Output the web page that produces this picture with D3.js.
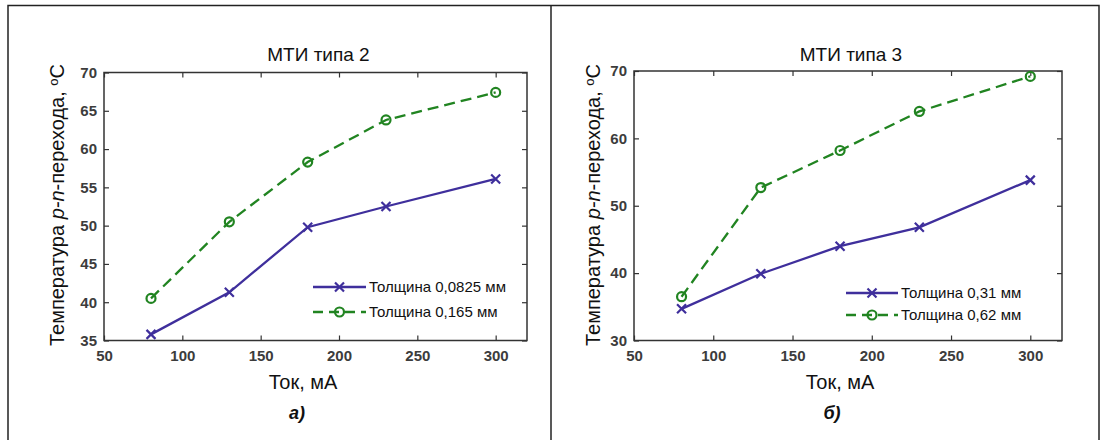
<!DOCTYPE html>
<html><head><meta charset="utf-8">
<script src="https://cdn.jsdelivr.net/npm/d3@7"></script>
<style>
html,body{margin:0;padding:0;background:#fff;}
svg{display:block;}
text{font-family:"Liberation Sans",Arial,sans-serif;}
</style></head>
<body>
<svg id="c" width="1107" height="440"></svg>
<script>
// ---- data ----
const currents = [80, 130, 180, 230, 300];
const xTickValues = [50, 100, 150, 200, 250, 300];

const titleA = "МТИ типа 2";
const seriesA1 = [35.8, 41.3, 49.8, 52.5, 56.1];   // Толщина 0,0825 мм
const seriesA2 = [40.5, 50.5, 58.3, 63.8, 67.4];   // Толщина 0,165 мм
const legendA = ["Толщина 0,0825 мм", "Толщина 0,165 мм"];
const yTicksA = [35, 40, 45, 50, 55, 60, 65, 70];

const titleB = "МТИ типа 3";
const seriesB1 = [34.7, 39.9, 44.0, 46.8, 53.8];   // Толщина 0,31 мм
const seriesB2 = [36.5, 52.7, 58.2, 64.0, 69.2];   // Толщина 0,62 мм
const legendB = ["Толщина 0,31 мм", "Толщина 0,62 мм"];
const yTicksB = [30, 40, 50, 60, 70];

const xLabel = "Ток, мА";

// ---- layout ----
const svg = d3.select("#c");
const BLUE = "#3f2f9c", GREEN = "#218421", AX = "#333";

svg.append("rect").attr("x", 8).attr("y", 5.5).attr("width", 1091).attr("height", 460)
  .attr("fill", "none").attr("stroke", "#222").attr("stroke-width", 1.5);
svg.append("line").attr("x1", 551).attr("x2", 551).attr("y1", 5.5).attr("y2", 440)
  .attr("stroke", "#222").attr("stroke-width", 1.5);

const panels = [
  {title: titleA, s1: seriesA1, s2: seriesA2, legend: legendA, yTicks: yTicksA,
   yDomain: [35, 70], x0: 104, x1: 527, y0: 72.5, y1: 340.5, yLabX: 64, letter: "а)",
   letterX: 297, xLabX: 303, legX0: 313, legX1: 366, legTx: 369, legY: [287, 312]},
  {title: titleB, s1: seriesB1, s2: seriesB2, legend: legendB, yTicks: yTicksB,
   yDomain: [30, 70], x0: 634, x1: 1062, y0: 71, y1: 340.5, yLabX: 600, letter: "б)",
   letterX: 832, xLabX: 840, legX0: 846, legX1: 898, legTx: 901, legY: [293, 315]}
];

panels.forEach(p => {
  const g = svg.append("g");
  const x = d3.scaleLinear().domain([50, 320]).range([p.x0, p.x1]);
  const y = d3.scaleLinear().domain(p.yDomain).range([p.y1, p.y0]);
  const cx = (p.x0 + p.x1) / 2;

  // title
  g.append("text").attr("x", cx + 3).attr("y", 61).attr("text-anchor", "middle")
    .attr("font-size", 19).attr("fill", "#111").text(p.title);

  // axes
  const styleAxis = sel => {
    sel.select(".domain").remove();
    sel.selectAll(".tick line").attr("stroke", AX).attr("stroke-width", 1.2);
    sel.selectAll(".tick text").attr("font-size", 15).attr("font-weight", "bold")
      .attr("fill", "#3c3c3c").style("font-family", "'Liberation Sans',Arial,sans-serif");
  };
  g.append("g").attr("transform", `translate(0,${p.y1})`)
    .call(d3.axisBottom(x).tickValues(xTickValues).tickSize(-5).tickPadding(10).tickFormat(d3.format("d")))
    .call(styleAxis);
  g.append("g").attr("transform", `translate(0,${p.y0})`)
    .call(d3.axisTop(x).tickValues(xTickValues).tickSize(-5).tickFormat(""))
    .call(styleAxis);
  g.append("g").attr("transform", `translate(${p.x0},0)`)
    .call(d3.axisLeft(y).tickValues(p.yTicks).tickSize(-5).tickPadding(7).tickFormat(d3.format("d")))
    .call(styleAxis);
  g.append("g").attr("transform", `translate(${p.x1},0)`)
    .call(d3.axisRight(y).tickValues(p.yTicks).tickSize(-5).tickFormat(""))
    .call(styleAxis);

  g.append("rect").attr("x", p.x0).attr("y", p.y0).attr("width", p.x1 - p.x0).attr("height", p.y1 - p.y0)
    .attr("fill", "none").attr("stroke", AX).attr("stroke-width", 1.5);

  // lines
  const line = d3.line().x((d, i) => x(currents[i])).y(d => y(d));
  g.append("path").datum(p.s1).attr("d", line).attr("fill", "none")
    .attr("stroke", BLUE).attr("stroke-width", 2.3);
  g.append("path").datum(p.s2).attr("d", line).attr("fill", "none")
    .attr("stroke", GREEN).attr("stroke-width", 2.3).attr("stroke-dasharray", "11,6");

  const drawX = (sel, px, py) => {
    const r = 4.5;
    sel.append("path").attr("d", `M${px - r},${py - r}L${px + r},${py + r}M${px - r},${py + r}L${px + r},${py - r}`)
      .attr("stroke", BLUE).attr("stroke-width", 2.2).attr("fill", "none");
  };
  const drawO = (sel, px, py) => {
    sel.append("circle").attr("cx", px).attr("cy", py).attr("r", 4.5)
      .attr("fill", "none").attr("stroke", GREEN).attr("stroke-width", 2.2);
  };
  p.s1.forEach((d, i) => drawX(g, x(currents[i]), y(d)));
  p.s2.forEach((d, i) => drawO(g, x(currents[i]), y(d)));

  // legend
  const lm = (p.legX0 + p.legX1) / 2;
  g.append("line").attr("x1", p.legX0).attr("x2", p.legX1).attr("y1", p.legY[0]).attr("y2", p.legY[0])
    .attr("stroke", BLUE).attr("stroke-width", 2.3);
  drawX(g, lm, p.legY[0]);
  g.append("line").attr("x1", p.legX0).attr("x2", p.legX1).attr("y1", p.legY[1]).attr("y2", p.legY[1])
    .attr("stroke", GREEN).attr("stroke-width", 2.3).attr("stroke-dasharray", "10,6");
  drawO(g, lm, p.legY[1]);
  p.legend.forEach((t, i) => {
    g.append("text").attr("x", p.legTx).attr("y", p.legY[i]).attr("dy", "0.35em")
      .attr("font-size", 15).attr("fill", "#111").text(t);
  });

  // x label
  g.append("text").attr("x", p.xLabX).attr("y", 389).attr("text-anchor", "middle")
    .attr("font-size", 20).attr("fill", "#111").text(xLabel);
  // panel letter
  g.append("text").attr("x", p.letterX).attr("y", 419).attr("text-anchor", "middle")
    .attr("font-size", 18).attr("font-weight", "bold").attr("font-style", "italic")
    .attr("fill", "#111").text(p.letter);

  // y label
  const yl = g.append("text").attr("transform", `translate(${p.yLabX},205) rotate(-90)`)
    .attr("text-anchor", "middle").attr("font-size", 20).attr("fill", "#111");
  yl.append("tspan").text("Температура ");
  yl.append("tspan").attr("font-style", "italic").text("p-n");
  yl.append("tspan").text("-перехода, ");
  yl.append("tspan").attr("font-size", 13).attr("dy", "-0.5em").text("o");
  yl.append("tspan").attr("dy", "0.32em").text("C");
});
</script>
</body></html>
